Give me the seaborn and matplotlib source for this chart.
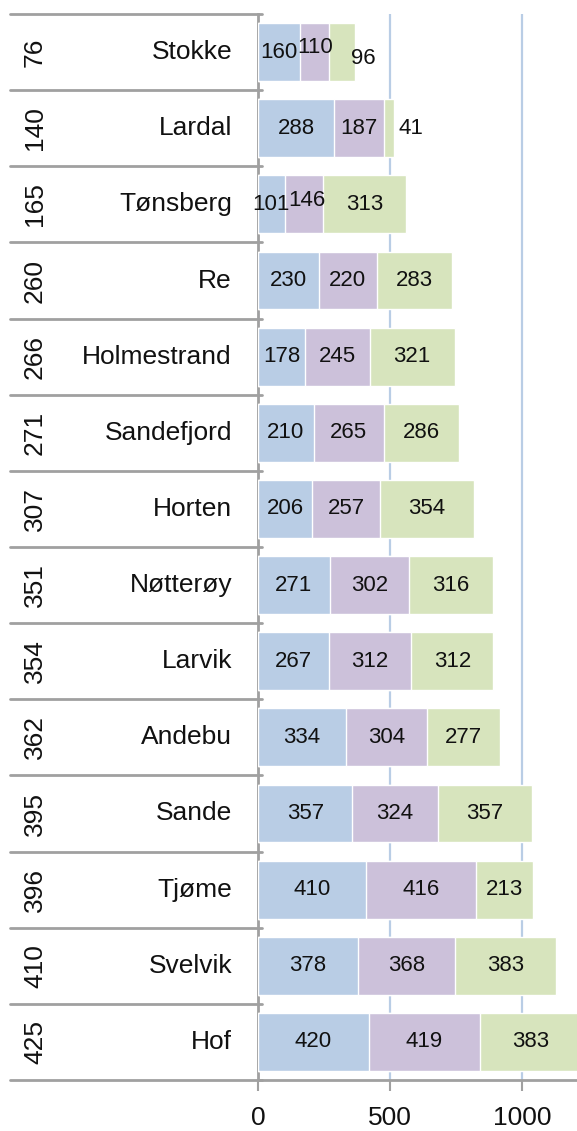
import matplotlib
matplotlib.use("Agg")
import matplotlib.pyplot as plt
import matplotlib.transforms as mtrans
from matplotlib.lines import Line2D
import seaborn as sns
import pandas as pd
import numpy as np

# ---- data ----
names = ["Stokke", "Lardal", "Tønsberg", "Re", "Holmestrand", "Sandefjord", "Horten",
         "Nøtterøy", "Larvik", "Andebu", "Sande", "Tjøme", "Svelvik", "Hof"]
totals_label = ["76", "140", "165", "260", "266", "271", "307",
                "351", "354", "362", "395", "396", "410", "425"]
seg1 = [160, 288, 101, 230, 178, 210, 206, 271, 267, 334, 357, 410, 378, 420]
seg2 = [110, 187, 146, 220, 245, 265, 257, 302, 312, 304, 324, 416, 368, 419]
seg3 = [96, 41, 313, 283, 321, 286, 354, 316, 312, 277, 357, 213, 383, 383]
xticks = [0, 500, 1000]

sns.set_theme(style="white")
plt.rcParams["font.family"] = ["Liberation Sans", "DejaVu Sans"]

BLUE = "#B9CDE5"
PURPLE = "#CCC1DA"
GREEN = "#D7E4BD"
GRID = "#B9CDE5"
LINE = "#A0A0A0"

W, H = 577, 1131
fig = plt.figure(figsize=(W / 100, H / 100), dpi=100)
ax = fig.add_axes([258 / W, 51 / H, 1 - 258 / W, (1080 - 14) / H])

df = pd.DataFrame({"name": names, "s1": seg1, "s2": seg2, "s3": seg3})
df["c2"] = df["s1"] + df["s2"]
df["c3"] = df["c2"] + df["s3"]

for col, colr in [("c3", GREEN), ("c2", PURPLE), ("s1", BLUE)]:
    sns.barplot(data=df, x=col, y="name", order=names, color=colr, width=0.76,
                edgecolor="white", linewidth=1, saturation=1, ax=ax, zorder=3)

ax.set_xlim(0, 1207)
ax.set_ylim(len(names) - 0.5, -0.5)
ax.set_xticks(xticks)
ax.set_xticklabels([str(t) for t in xticks], fontsize=19, color="#111111")
ax.set_xlabel("")
ax.set_ylabel("")
ax.xaxis.grid(True, color=GRID, lw=1.6, zorder=0)
ax.set_axisbelow(True)
ax.tick_params(axis="x", direction="out", length=8, width=1.5, color=LINE, pad=11,
               bottom=True)
ax.tick_params(axis="y", left=False, labelleft=False)
for s in ["top", "right"]:
    ax.spines[s].set_visible(False)
for s in ["left", "bottom"]:
    ax.spines[s].set_color(LINE)
    ax.spines[s].set_linewidth(2)

# segment labels
offsets = {(0, 1): (0, 3), (0, 2): (15, -4.3), (1, 2): (16, 0), (2, 1): (2, 3)}
for i in range(len(names)):
    starts = [0, seg1[i], seg1[i] + seg2[i]]
    vals = [seg1[i], seg2[i], seg3[i]]
    for j in range(3):
        dx, dy = offsets.get((i, j), (0, 0))
        ax.annotate(str(vals[j]), (starts[j] + vals[j] / 2, i), xytext=(dx, dy),
                    textcoords="offset points", ha="center", va="center",
                    fontsize=16, color="#111111", zorder=5)

# left table
tr = mtrans.blended_transform_factory(fig.transFigure, ax.transData)
for k in range(len(names) + 1):
    yb = k - 0.5
    fig.add_artist(Line2D([10 / W, 73 / W], [yb, yb], transform=tr, color=LINE, lw=2))
    fig.add_artist(Line2D([73.5 / W, 262 / W], [yb, yb], transform=tr, color=LINE, lw=2))
for i, (nm, tl) in enumerate(zip(names, totals_label)):
    fig.text(35 / W, i, tl, transform=tr, rotation=90, ha="center", va="center",
             fontsize=19, color="#111111")
    fig.text(232 / W, i, nm, transform=tr, ha="right", va="center",
             fontsize=19, color="#111111")

fig.savefig("out.png", dpi=100, facecolor="white")
